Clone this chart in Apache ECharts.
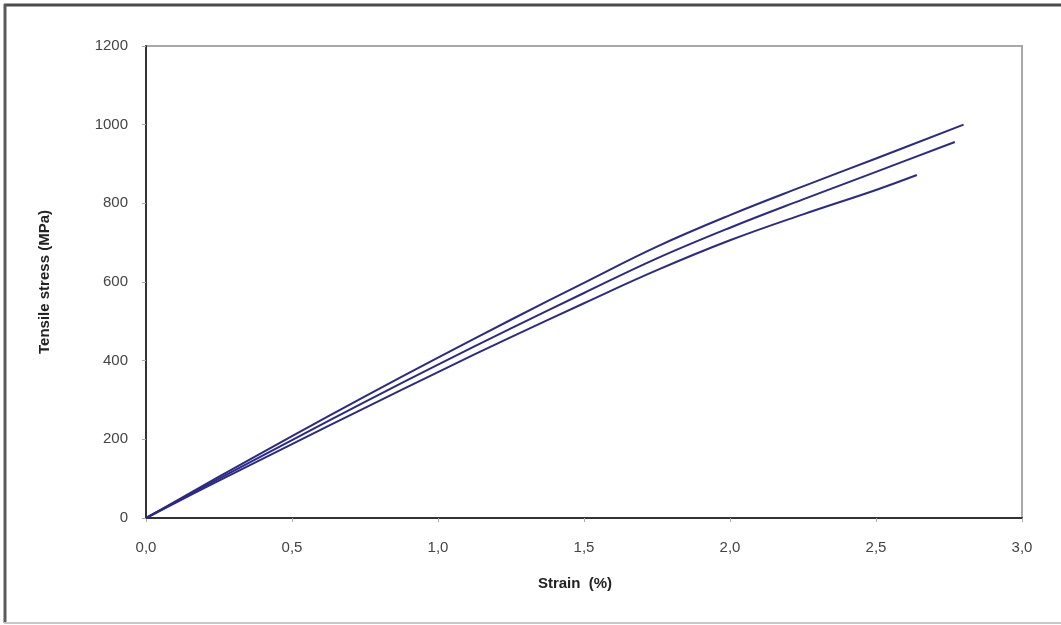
<!DOCTYPE html>
<html lang="en">
<head>
	<meta charset="UTF-8">
	<title>Tensile stress vs strain</title>
	<style>
	body, div {
		margin: 0;
		padding: 0;
	}
	#echart {
		width: 1061px;
		height: 625px;
		background: #fff;
	}
	</style>
</head>
<body>
	<div id="echart"></div>

	<script src="https://cdn.jsdelivr.net/npm/echarts@6/dist/echarts.min.js"></script>

	<script>
// strain (%) / stress (MPa), one pair of arrays per specimen
var strainA = [0, 0.25, 0.5, 0.75, 1.0, 1.25, 1.5, 1.75, 2.0, 2.25, 2.5, 2.8];
var stressA = [0, 105, 208, 309, 408, 504, 598, 690, 770, 843, 914, 1000];

var strainB = [0, 0.25, 0.5, 0.75, 1.0, 1.25, 1.5, 1.75, 2.0, 2.25, 2.5, 2.77];
var stressB = [0, 100, 198, 295, 390, 482, 572, 660, 738, 810, 880, 956];

var strainC = [0, 0.25, 0.5, 0.75, 1.0, 1.25, 1.5, 1.75, 2.0, 2.25, 2.5, 2.64];
var stressC = [0, 95, 188, 280, 371, 460, 546, 630, 706, 772, 834, 872];

var xTicks = [0, 0.5, 1.0, 1.5, 2.0, 2.5, 3.0];
var yTicks = [0, 200, 400, 600, 800, 1000, 1200];

function pairs(xs, ys) {
	return xs.map(function (x, i) { return [x, ys[i]]; });
}

var myEchart = echarts.init(document.getElementById('echart'), null, { renderer: 'canvas' });

var lineColor = '#2b2a86';
var font = '"Liberation Sans", Arial, sans-serif';

function curve(name, xs, ys) {
	return {
		name: name,
		type: 'line',
		data: pairs(xs, ys),
		smooth: 0.4,
		showSymbol: false,
		lineStyle: { color: lineColor, width: 2 },
		animation: false
	};
}

option = {
	backgroundColor: '#fff',
	animation: false,
	grid: {
		show: true,
		left: 146,
		right: 39,
		top: 46,
		bottom: 107,
		borderColor: '#a8a8a8',
		borderWidth: 2,
		backgroundColor: '#fff'
	},
	graphic: [
		{ type: 'line', shape: { x1: 4, y1: 5, x2: 1061, y2: 5 }, style: { stroke: '#4a4a4a', lineWidth: 3 } },
		{ type: 'line', shape: { x1: 5, y1: 4, x2: 5, y2: 623 }, style: { stroke: '#5a5a5a', lineWidth: 3 } },
		{ type: 'line', shape: { x1: 4, y1: 623, x2: 1061, y2: 623 }, style: { stroke: '#c8c8c8', lineWidth: 2 } }
	],
	xAxis: {
		type: 'value',
		min: xTicks[0],
		max: xTicks[xTicks.length - 1],
		interval: 0.5,
		name: 'Strain  (%)',
		nameLocation: 'middle',
		nameGap: 58,
		nameTextStyle: { fontFamily: font, fontSize: 15, fontWeight: 'bold', color: '#222', padding: [0, 18, 0, 0] },
		axisLine: { show: true, onZero: false, lineStyle: { color: '#333', width: 2 } },
		axisTick: { show: true, length: 4, inside: false, lineStyle: { color: '#aaa' } },
		axisLabel: {
			fontFamily: font, fontSize: 15, color: '#444', margin: 22,
			formatter: function (v) { return v.toFixed(1).replace('.', ','); }
		},
		splitLine: { show: false }
	},
	yAxis: {
		type: 'value',
		min: yTicks[0],
		max: yTicks[yTicks.length - 1],
		interval: 200,
		name: 'Tensile stress (MPa)',
		nameLocation: 'middle',
		nameGap: 94,
		nameTextStyle: { fontFamily: font, fontSize: 15, fontWeight: 'bold', color: '#222' },
		axisLine: { show: true, lineStyle: { color: '#333', width: 2 } },
		axisTick: { show: true, length: 4, inside: false, lineStyle: { color: '#aaa' } },
		axisLabel: {
			fontFamily: font, fontSize: 15, color: '#444', margin: 18,
			formatter: function (v) { return String(v); }
		},
		splitLine: { show: false }
	},
	series: [
		curve('A', strainA, stressA),
		curve('B', strainB, stressB),
		curve('C', strainC, stressC)
	]
};

myEchart.setOption(option);
	</script>
</body>
</html>
